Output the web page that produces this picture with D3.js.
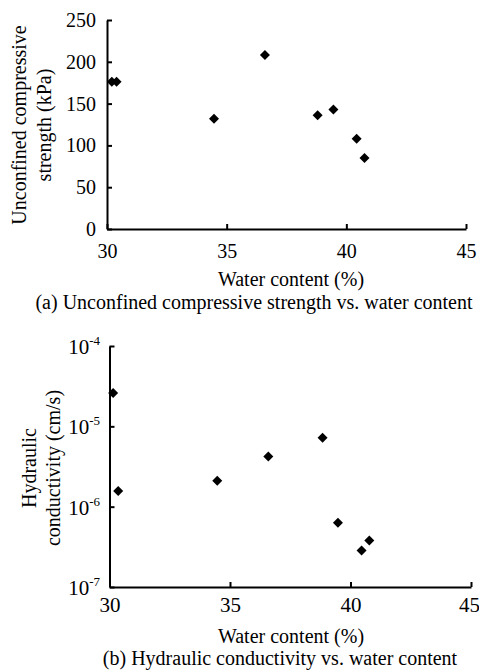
<!DOCTYPE html>
<html lang="en">
<head>
    <meta charset="utf-8">
    <title>Water content plots</title>
    <script type="text/javascript" src="https://d3js.org/d3.v7.min.js"></script>
    <style>
     body {
        margin: 0;
        background: white;
     }
     svg text {
        font-family: "Liberation Serif", "Times New Roman", serif;
        fill: black;
     }
     .axis path, .axis line {
        stroke: black;
        stroke-width: 2;
     }
    </style>
</head>
<body>
    <div id="chart"></div>
    <script type="text/javascript">
        const width = 479;
        const height = 671;

        // (a) unconfined compressive strength
        const waterA = [30.2, 30.4, 34.47, 36.6, 38.8, 39.46, 40.43, 40.76];
        const strength = [176, 176, 132, 208, 136, 143, 108, 85];
        const strengthTicks = [0, 50, 100, 150, 200, 250];

        // (b) hydraulic conductivity
        const waterB = [30.15, 30.36, 34.47, 36.59, 38.84, 39.48, 40.46, 40.78];
        const conductivity = [2.6e-5, 1.57e-6, 2.1e-6, 4.2e-6, 7.2e-6, 6.3e-7, 2.85e-7, 3.8e-7];
        const conductivityTicks = [1e-7, 1e-6, 1e-5, 1e-4];

        const waterTicks = [30, 35, 40, 45];

        const svg = d3.select("#chart")
            .append("svg")
            .attr("width", width)
            .attr("height", height);

        const diamond = d3.symbol(d3.symbolSquare, 50);

        function drawPanel(opt) {
            const x = d3.scaleLinear()
                        .domain([30, 45])
                        .range([opt.left, opt.right]);

            const xAxis = d3.axisBottom(x)
                            .tickValues(waterTicks)
                            .tickSizeInner(-5)
                            .tickSizeOuter(0)
                            .tickFormat(d3.format("d"));

            const gx = svg.append("g")
                        .attr("class", "axis")
                        .attr("transform", "translate(0," + opt.bottom + ")")
                        .call(xAxis);
            gx.selectAll("text")
                .attr("y", opt.xLabelY)
                .attr("dy", 0)
                .style("font-size", opt.tickFont + "px");
            // last label sits against the right edge
            gx.selectAll("text")
                .filter(d => d === 45)
                .attr("dx", opt.lastDx);

            const gy = svg.append("g")
                        .attr("class", "axis")
                        .attr("transform", "translate(" + opt.left + ",0)")
                        .call(opt.yAxis);
            gy.selectAll("text")
                .attr("x", -opt.yLabelGap)
                .style("font-size", opt.tickFont + "px");

            // points
            svg.append("g")
                .selectAll("path")
                .data(opt.xs)
                .enter()
                .append("path")
                    .attr("d", diamond)
                    .attr("transform", (d, i) => "translate(" + x(d) + "," + opt.y(opt.ys[i]) + ") rotate(45)")
                    .attr("fill", "black");

            // y title, two lines
            opt.yTitle.forEach((t, i) => {
                svg.append("text")
                    .attr("transform", "translate(" + opt.yTitleX[i] + "," + opt.yTitleY + ") rotate(-90)")
                    .attr("text-anchor", "middle")
                    .attr("dominant-baseline", "central")
                    .style("font-size", opt.titleFont + "px")
                    .text(t);
            });

            svg.append("text")
                .attr("x", 291)
                .attr("y", opt.xTitleY)
                .attr("text-anchor", "middle")
                .style("font-size", opt.titleFont + "px")
                .text("Water content (%)");

            svg.append("text")
                .attr("x", opt.captionX)
                .attr("y", opt.captionY)
                .attr("text-anchor", "middle")
                .style("font-size", opt.titleFont + "px")
                .text(opt.caption);
        }

        // panel (a)
        const yA = d3.scaleLinear()
                    .domain([0, 250])
                    .range([229, 20]);

        drawPanel({
            left: 107, right: 466, bottom: 229,
            y: yA,
            yAxis: d3.axisLeft(yA)
                    .tickValues(strengthTicks)
                    .tickSizeInner(-5)
                    .tickSizeOuter(0),
            xs: waterA, ys: strength,
            tickFont: 20, titleFont: 20,
            xLabelY: 29, yLabelGap: 11, lastDx: 0,
            yTitle: ["Unconfined compressive", "strength (kPa)"],
            yTitleX: [19, 44], yTitleY: 125,
            xTitleY: 286,
            caption: "(a) Unconfined compressive strength vs. water content",
            captionX: 254, captionY: 309
        });

        // panel (b)
        const yB = d3.scaleLog()
                    .domain([1e-7, 1e-4])
                    .range([587, 346]);

        drawPanel({
            left: 109.5, right: 471, bottom: 587,
            y: yB,
            yAxis: d3.axisLeft(yB)
                    .tickValues(conductivityTicks)
                    .tickSizeInner(-5)
                    .tickSizeOuter(0)
                    .tickFormat(() => ""),
            xs: waterB, ys: conductivity,
            tickFont: 21, titleFont: 20,
            xLabelY: 25, yLabelGap: 10, lastDx: -2,
            yTitle: ["Hydraulic", "conductivity (cm/s)"],
            yTitleX: [29, 53], yTitleY: 468,
            xTitleY: 643,
            caption: "(b) Hydraulic conductivity vs. water content",
            captionX: 280, captionY: 665
        });

        // power-of-ten labels for the log axis
        const powLabels = svg.append("g")
            .selectAll("text")
            .data(conductivityTicks)
            .enter()
            .append("text")
                .attr("x", 100)
                .attr("y", d => yB(d) + 8)
                .attr("text-anchor", "end")
                .style("font-size", "21px");
        powLabels.append("tspan").text("10");
        powLabels.append("tspan")
            .attr("dy", -9)
            .style("font-size", "13px")
            .text(d => Math.round(Math.log10(d)));
    </script>
</body>
</html>
